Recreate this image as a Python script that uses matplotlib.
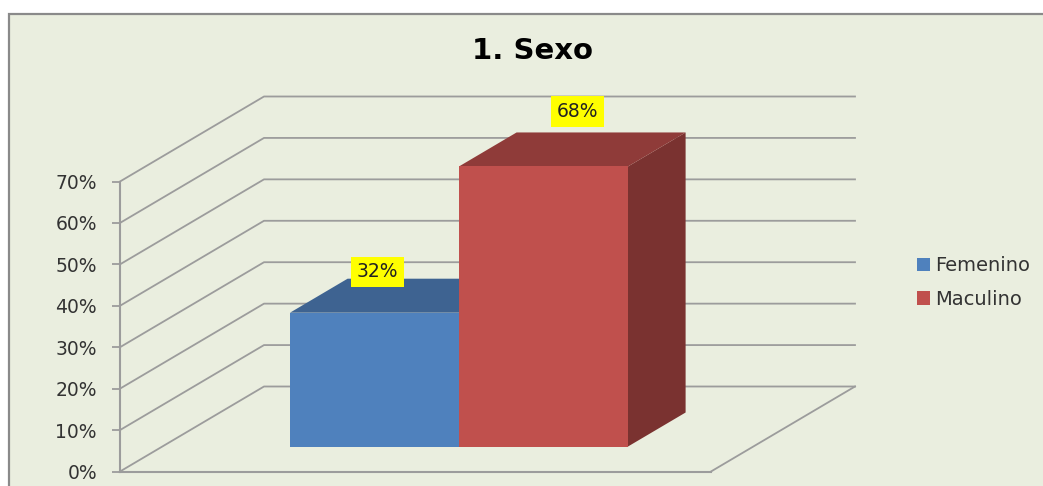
import matplotlib

matplotlib.use("Agg")
import matplotlib.pyplot as plt
from matplotlib.patches import Patch, Polygon, Rectangle

series = ["Femenino", "Maculino"]
values = [32.3, 67.6]
y_ticks = [0, 10, 20, 30, 40, 50, 60, 70]

WIDTH, HEIGHT = 1043, 486
BG = "#EAEEDF"
GRID = "#9C9C9C"
FRONT = ["#4F81BD", "#C0504D"]
TOP = ["#3E6391", "#8F3B39"]
SIDE = ["#3A5C86", "#7A3230"]
LABEL_OFFSET = [(3, 41), (34, 55)]

# full-depth shift of the back wall, in data units (x is 0-1 across the floor)
DEPTH_X = 144 / 591
DEPTH_Y = 85 / (290 / 70)
BAR_START = 0.294
BAR_DEPTH = 0.4
BAR_WIDTH = 169 / 591
BAR_LEFT = (290 - 120) / 591 - BAR_START * DEPTH_X

figure = plt.figure(figsize=(WIDTH / 100, HEIGHT / 100), dpi=100, facecolor="white")
figure.add_artist(
    Rectangle(
        (9 / WIDTH, -0.1),
        1.1,
        1.1 - 14 / HEIGHT,
        transform=figure.transFigure,
        facecolor=BG,
        edgecolor="#8A8A8A",
        linewidth=1.6,
        zorder=-1,
    )
)

axis = figure.add_axes([120 / WIDTH, 1 - 471.5 / HEIGHT, 591 / WIDTH, 290 / HEIGHT])
axis.patch.set_visible(False)
axis.set_xlim(0, 1)
axis.set_ylim(0, 70)

# side wall and back wall lines
for tick in y_ticks:
    axis.plot(
        [0, DEPTH_X, 1 + DEPTH_X],
        [tick, tick + DEPTH_Y, tick + DEPTH_Y],
        color=GRID,
        linewidth=1.3,
        clip_on=False,
        zorder=1,
    )
axis.plot([1, 1 + DEPTH_X], [0, DEPTH_Y], color=GRID, linewidth=1.3, clip_on=False, zorder=1)

for index, value in enumerate(values):
    x0 = BAR_LEFT + index * BAR_WIDTH + BAR_START * DEPTH_X
    x1 = x0 + BAR_WIDTH
    y0 = BAR_START * DEPTH_Y
    y1 = y0 + value
    dx = BAR_DEPTH * DEPTH_X
    dy = BAR_DEPTH * DEPTH_Y
    axis.add_patch(Polygon([(x1, y0), (x1 + dx, y0 + dy), (x1 + dx, y1 + dy), (x1, y1)],
                           facecolor=SIDE[index], edgecolor="none", clip_on=False, zorder=3 + index))
    axis.add_patch(Polygon([(x0, y1), (x0 + dx, y1 + dy), (x1 + dx, y1 + dy), (x1, y1)],
                           facecolor=TOP[index], edgecolor="none", clip_on=False, zorder=3 + index))
    axis.add_patch(Rectangle((x0, y0), BAR_WIDTH, value,
                             facecolor=FRONT[index], edgecolor="none", clip_on=False, zorder=3 + index))
    axis.annotate(
        f"{value:.0f}%",
        xy=((x0 + x1) / 2, y1),
        xytext=LABEL_OFFSET[index],
        textcoords="offset pixels",
        ha="center",
        va="center",
        fontsize=13.5,
        color="#222222",
        bbox={"boxstyle": "square,pad=0.3", "facecolor": "#FFFF00", "edgecolor": "none"},
        zorder=6,
        annotation_clip=False,
    )

axis.set_xticks([])
axis.set_yticks(y_ticks, [f"{tick}%" for tick in y_ticks])
axis.tick_params(axis="y", length=5.8, width=1.3, color=GRID, labelsize=13.5, labelcolor="#333333", pad=10.8)
for name in ("top", "right"):
    axis.spines[name].set_visible(False)
for name in ("left", "bottom"):
    axis.spines[name].set_color(GRID)
    axis.spines[name].set_linewidth(1.5)

figure.text(532.5 / WIDTH, 1 - 51 / HEIGHT, "1. Sexo", ha="center", va="center",
            fontsize=21, fontweight="bold", color="black")

figure.legend(
    handles=[Patch(facecolor=FRONT[i], label=series[i]) for i in range(2)],
    loc="center left",
    bbox_to_anchor=(917 / WIDTH, 1 - 282.5 / HEIGHT),
    frameon=False,
    fontsize=14,
    labelcolor="#333333",
    handlelength=0.67,
    handleheight=0.67,
    handletextpad=0.25,
    labelspacing=0.75,
    borderpad=0,
    borderaxespad=0,
)

figure.savefig("out.png", dpi=100)
plt.close(figure)
